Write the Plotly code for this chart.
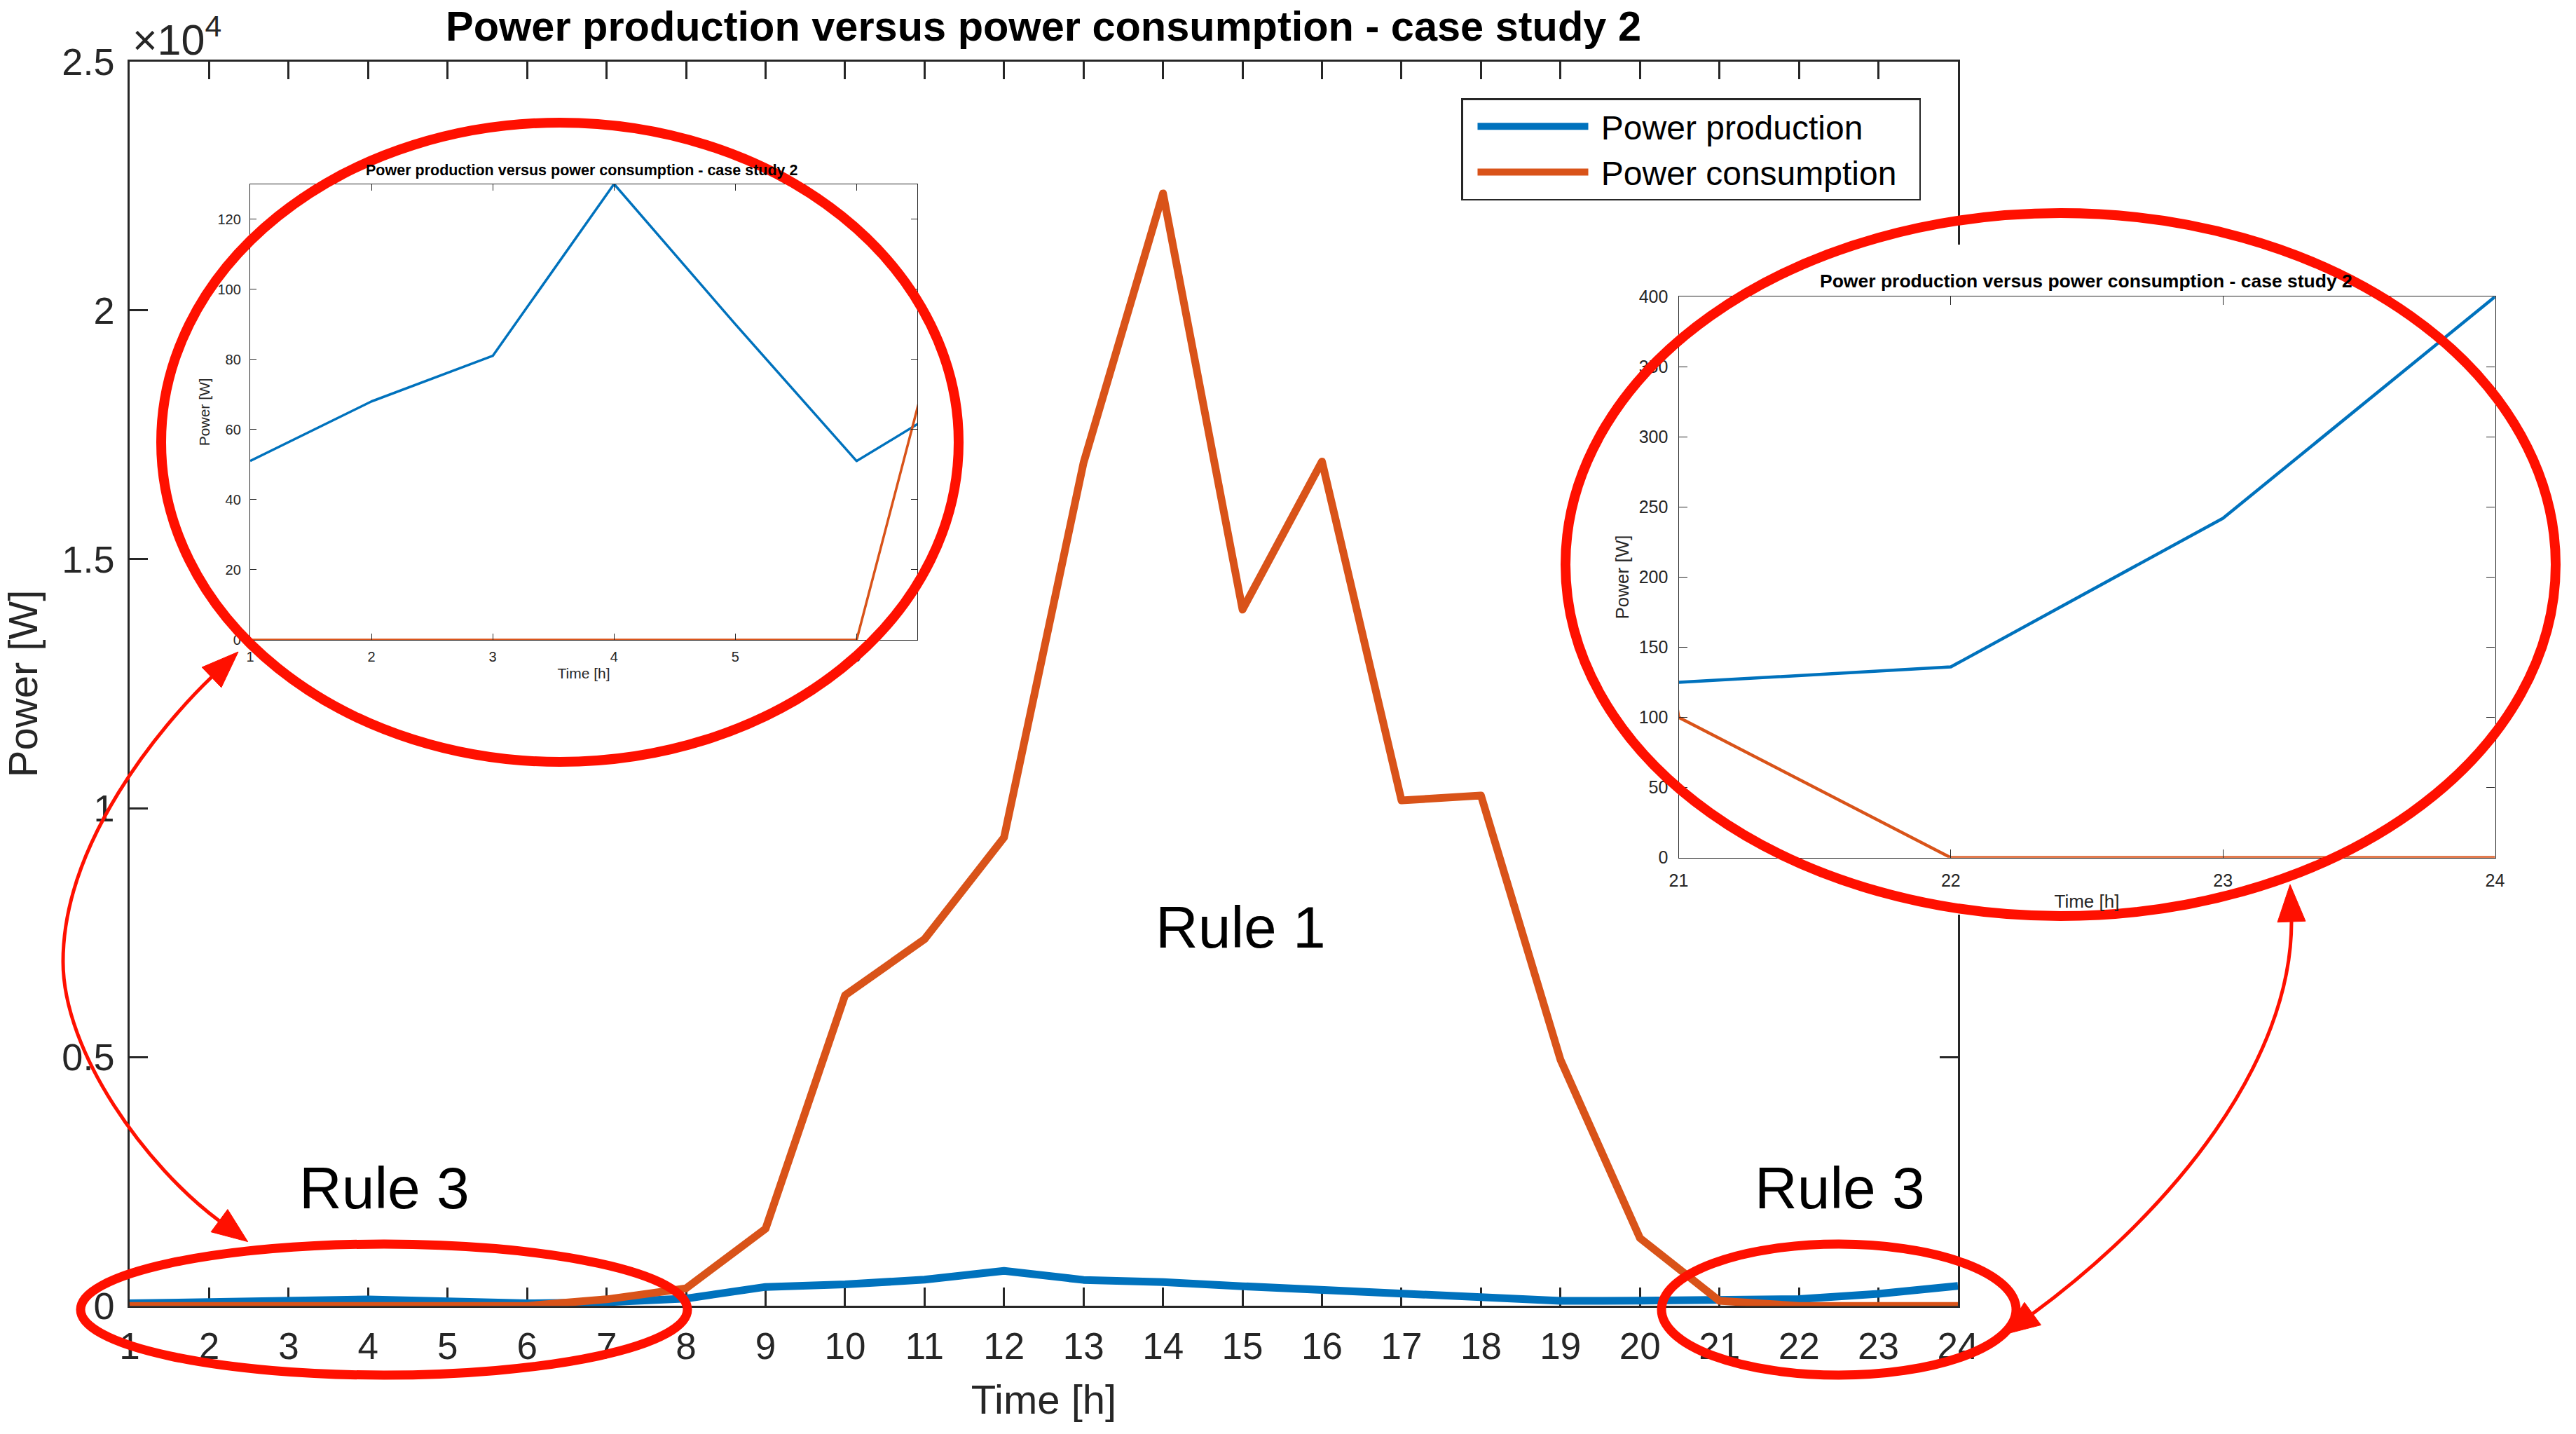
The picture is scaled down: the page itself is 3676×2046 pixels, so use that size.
import plotly.graph_objects as go

W, H = 3676, 2046
FONT = "Liberation Sans, Arial, Helvetica, sans-serif"
AX = "#262626"
RED = "#FF1000"
BLUE = "#0072BD"
ORANGE = "#D95319"

# ---------------- data ----------------
hours = list(range(1, 25))
power_production = [51, 68, 81, 130, 90, 51, 72, 148, 381, 432, 526, 704,
                    522, 479, 395, 320, 211, 155, 100, 105, 125, 136, 242, 400]
power_consumption = [0, 0, 0, 0, 0, 0, 132, 352, 1550, 6240, 7367, 9409,
                     16936, 22350, 13987, 16964, 10155, 10253, 4945, 1362, 100, 0, 0, 0]

y_tick_values = [0, 5000, 10000, 15000, 20000, 25000]
y_tick_labels = ["0", "0.5", "1", "1.5", "2", "2.5"]

left_inset_x_ticks = [1, 2, 3, 4, 5, 6]
left_inset_y_ticks = [0, 20, 40, 60, 80, 100, 120]
right_inset_x_ticks = [21, 22, 23, 24]
right_inset_y_ticks = [0, 50, 100, 150, 200, 250, 300, 350, 400]

series_names = ["Power production", "Power consumption"]
title_text = "Power production versus power consumption - case study 2"

NB = "\u00a0"


def px(x):
    return x / W


def py(y):
    return 1 - y / H


fig = go.Figure()

# main traces
fig.add_trace(go.Scatter(x=hours, y=power_production, mode="lines", name=NB + series_names[0] + NB * 2,
                         line=dict(color=BLUE, width=11), xaxis="x", yaxis="y"))
fig.add_trace(go.Scatter(x=hours, y=power_consumption, mode="lines", name=NB + series_names[1] + NB * 2,
                         line=dict(color=ORANGE, width=11), xaxis="x", yaxis="y"))
# white cover panels (inset figure backgrounds)
fig.add_trace(go.Scatter(x=[None], y=[None], xaxis="x2", yaxis="y2", showlegend=False, hoverinfo="skip"))
fig.add_trace(go.Scatter(x=[None], y=[None], xaxis="x3", yaxis="y3", showlegend=False, hoverinfo="skip"))
# left inset
fig.add_trace(go.Scatter(x=hours, y=power_production, mode="lines", showlegend=False,
                         line=dict(color=BLUE, width=3.5), xaxis="x4", yaxis="y4"))
fig.add_trace(go.Scatter(x=hours, y=power_consumption, mode="lines", showlegend=False,
                         line=dict(color=ORANGE, width=3.5), xaxis="x4", yaxis="y4"))
# right inset
fig.add_trace(go.Scatter(x=hours, y=power_production, mode="lines", showlegend=False,
                         line=dict(color=BLUE, width=4.5), xaxis="x5", yaxis="y5"))
fig.add_trace(go.Scatter(x=hours, y=power_consumption, mode="lines", showlegend=False,
                         line=dict(color=ORANGE, width=4.5), xaxis="x5", yaxis="y5"))

hidden = dict(showline=False, showticklabels=False, ticks="", showgrid=False, zeroline=False,
              automargin=False, range=[0, 1], fixedrange=True)


def inset_axis(domain, rng, tickvals, anchor, fsize, tlen, title, tfsize, standoff, lstand):
    return dict(domain=domain, range=rng, tickmode="array", tickvals=tickvals, ticks="inside",
                ticklen=tlen, tickwidth=1.3, tickcolor=AX, showline=True, linecolor=AX, linewidth=1.3,
                mirror="ticks", showgrid=False, zeroline=False, anchor=anchor, automargin=False,
                tickfont=dict(size=fsize, color=AX, family=FONT), ticklabelstandoff=lstand,
                title=dict(text=title, font=dict(size=tfsize, color=AX, family=FONT), standoff=standoff))


fig.update_layout(
    width=W, height=H, margin=dict(l=0, r=0, t=0, b=0),
    paper_bgcolor="white", plot_bgcolor="white",
    font=dict(family=FONT, color=AX),
    showlegend=True,
    legend=dict(x=px(2085), y=py(140), xanchor="left", yanchor="top", bgcolor="white",
                bordercolor=AX, borderwidth=2.5, font=dict(size=48, color="black", family=FONT),
                itemwidth=158, tracegroupgap=0, indentation=16),
    xaxis=dict(domain=[px(185), px(2794)], range=[1, 24], tickmode="array", tickvals=hours,
               ticks="inside", ticklen=26, tickwidth=2.5, tickcolor=AX, showline=True,
               linecolor=AX, linewidth=2.5, mirror="ticks", showgrid=False, zeroline=False,
               anchor="y", automargin=False, layer="below traces",
               tickfont=dict(size=53, color=AX, family=FONT), ticklabelstandoff=9,
               title=dict(text="Time [h]", font=dict(size=58, color=AX, family=FONT), standoff=28)),
    yaxis=dict(domain=[py(1863.2), py(87.7)], range=[0, 25000], tickmode="array",
               tickvals=y_tick_values, ticktext=y_tick_labels,
               ticks="inside", ticklen=26, tickwidth=2.5, tickcolor=AX, showline=True,
               linecolor=AX, linewidth=2.5, mirror="ticks", showgrid=False, zeroline=False,
               anchor="x", automargin=False, layer="below traces",
               tickfont=dict(size=54, color=AX, family=FONT), ticklabelstandoff=8,
               title=dict(text="Power [W]", font=dict(size=58, color=AX, family=FONT), standoff=29)),
    xaxis2=dict(domain=[px(270), px(1340)], anchor="y2", **hidden),
    yaxis2=dict(domain=[py(985), py(225)], anchor="x2", **hidden),
    xaxis3=dict(domain=[px(2290), px(3630)], anchor="y3", **hidden),
    yaxis3=dict(domain=[py(1305), py(349)], anchor="x3", **hidden),
    xaxis4=inset_axis([px(357), px(1309)], [1, 6.5], left_inset_x_ticks, "y4", 20, 9, "Time [h]", 21, 6, 6),
    yaxis4=inset_axis([py(913), py(262.5)], [0, 130], left_inset_y_ticks, "x4", 20, 9, "Power [W]", 21, 5, 8),
    xaxis5=inset_axis([px(2395.5), px(3560.5)], [21, 24], right_inset_x_ticks, "y5", 25, 12, "Time [h]", 26, 7, 10),
    yaxis5=inset_axis([py(1223.7), py(423.3)], [0, 400], right_inset_y_ticks, "x5", 25, 12, "Power [W]", 26, 6, 9),
)

annotations = [
    dict(text="<b>" + title_text + "</b>", x=px(1489), y=py(37.5), font=dict(size=59.5, color="black")),
    dict(text="×10<sup>4</sup>", x=px(187), y=py(93), xanchor="left", yanchor="bottom",
         font=dict(size=61, color=AX)),
    dict(text="<b>" + title_text + "</b>", x=px(830), y=py(243), font=dict(size=21.5, color="black")),
    dict(text="<b>" + title_text + "</b>", x=px(2977), y=py(400.6), font=dict(size=26.5, color="black")),
    dict(text="Rule 1", x=px(1770), y=py(1323), font=dict(size=84, color="black")),
    dict(text="Rule 3", x=px(548), y=py(1695), font=dict(size=84, color="black")),
    dict(text="Rule 3", x=px(2625), y=py(1695), font=dict(size=84, color="black")),
]
for a in annotations:
    a.setdefault("xanchor", "center")
    a.setdefault("yanchor", "middle")
    a["xref"] = "paper"
    a["yref"] = "paper"
    a["showarrow"] = False
    a["font"]["family"] = FONT
fig.update_layout(annotations=annotations)

shapes = []


def ellipse(x0, y0, x1, y1, w):
    shapes.append(dict(type="circle", xref="paper", yref="paper", x0=px(x0), x1=px(x1),
                       y0=py(y1), y1=py(y0), line=dict(color=RED, width=w), layer="above"))


ellipse(230, 175, 1368, 1087, 14)
ellipse(2234, 304, 3647, 1307, 14)
ellipse(115, 1775, 981, 1962, 13)
ellipse(2371, 1775, 2877, 1962, 13)


def pt(x, y):
    return f"{px(x):.6f},{py(y):.6f}"


def curve(pts):
    d = "M " + pt(*pts[0])
    rest = pts[1:]
    for i in range(0, len(rest), 3):
        d += " C " + " ".join(pt(*p) for p in rest[i:i + 3])
    shapes.append(dict(type="path", xref="paper", yref="paper", path=d,
                       line=dict(color=RED, width=5), layer="above"))


def head(tip, base, width=40):
    dx, dy = tip[0] - base[0], tip[1] - base[1]
    n = (dx * dx + dy * dy) ** 0.5
    ux, uy = -dy / n, dx / n
    b1 = (base[0] + ux * width / 2, base[1] + uy * width / 2)
    b2 = (base[0] - ux * width / 2, base[1] - uy * width / 2)
    d = "M " + pt(*tip) + " L " + pt(*b1) + " L " + pt(*b2) + " Z"
    shapes.append(dict(type="path", xref="paper", yref="paper", path=d,
                       fillcolor=RED, line=dict(color=RED, width=1), layer="above"))


curve([(302, 966), (230, 1035), (90, 1202), (90, 1372), (90, 1502), (209, 1665), (313, 1742)])
head((340, 930), (302, 966.5))
head((353.6, 1771.6), (313, 1741.6))
curve([(3270, 1315), (3270, 1515), (3102, 1726), (2900.7, 1874.3)])
head((3268, 1262), (3270, 1315))
head((2860, 1904), (2900.7, 1874.3))

fig.update_layout(shapes=shapes)

post = (
    "document.body.style.margin='0';document.body.style.overflow='hidden';"
    "var st=document.createElement('style');"
    "st.textContent='.scatterlayer .js-line{stroke-linejoin:round !important;}';"
    "document.head.appendChild(st);"
)
fig.write_html("out.html", include_plotlyjs=True, full_html=True,
               config={"displayModeBar": False}, post_script=post)
